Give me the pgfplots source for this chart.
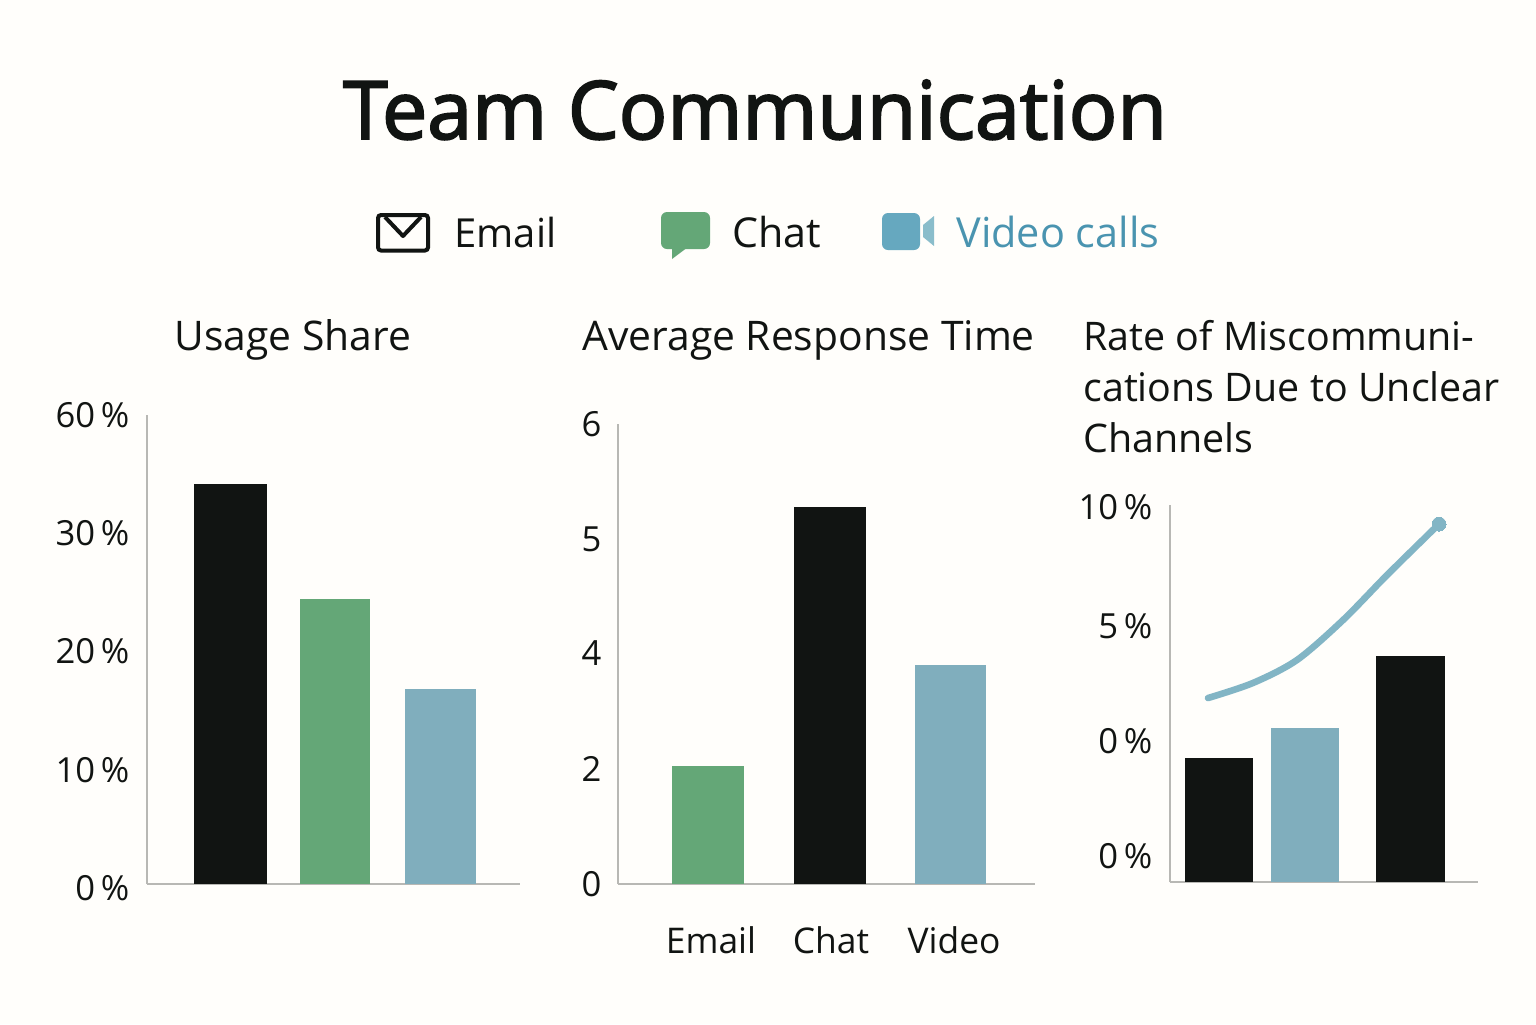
\documentclass[border=0pt]{standalone}
\usepackage{pgfplots}
\pgfplotsset{compat=1.18}
\usepackage{fontspec}
\setmainfont{Open Sans}
\newfontfamily\titlefont[FakeBold=2.4]{Open Sans}
\definecolor{bg}{HTML}{FFFEFB}
\definecolor{ink}{HTML}{111412}
\definecolor{grn}{HTML}{64A777}
\definecolor{blu}{HTML}{80AEBD}
\definecolor{blu2}{HTML}{66A8BF}
\definecolor{blu3}{HTML}{8ABDCB}
\definecolor{lin}{HTML}{82B5C5}
\definecolor{vid}{HTML}{4A94B0}
\definecolor{axc}{HTML}{B8B8B4}
\pgfplotsset{
  panel/.style={
    scale only axis, anchor=south west, clip=false,
    axis y line=left, axis x line=bottom,
    axis line style={draw=axc, line width=1pt, -},
    x axis line style={line width=1.3pt},
    tick style={draw=none},
    ymin=0, enlargelimits=false,
    xtick=\empty,
    yticklabel style={font=\fontsize{17.3}{20}\selectfont, text=ink, inner sep=0pt, xshift=-6.5pt},
    xticklabel style={font=\fontsize{17.7}{20}\selectfont, text=ink},
    ybar, 
  },
  onebar/.style={ybar, bar shift=0pt, draw=none, fill=#1},
}
\begin{document}
\begin{tikzpicture}
\begin{scope}[x=0.5pt,y=-0.5pt]
\path[use as bounding box, fill=bg] (0,0) rectangle (1536,1024);
\node[anchor=base, font=\fontsize{40.3}{44}\selectfont\titlefont, text=ink, inner sep=0pt] at (755,139) {Team Communication};
% legend
\draw[ink, line width=2pt, rounded corners=1.5pt] (378,215) rectangle (428,250.5);
\draw[ink, line width=2pt, line join=round] (385,217) -- (403,236) -- (421,217);
\node[anchor=base west, font=\fontsize{20}{22}\selectfont, text=ink, inner sep=0pt] at (454,247.5) {Email};
\fill[grn, rounded corners=3pt] (661,212) rectangle (710,249);
\fill[grn] (672,246) -- (672,259) -- (688,247) -- cycle;
\node[anchor=base west, font=\fontsize{20.6}{22}\selectfont, text=ink, inner sep=0pt] at (732,247.5) {Chat};
\fill[blu2, rounded corners=3pt] (882,213) rectangle (920,250);
\fill[blu3] (923,225) -- (934,216) -- (934,246) -- (923,237) -- cycle;
\node[anchor=base west, font=\fontsize{20.7}{22}\selectfont, text=vid, inner sep=0pt] at (956,247.5) {Video calls};
% panel titles
\node[anchor=base west, font=\fontsize{20.4}{22}\selectfont, text=ink, inner sep=0pt] at (174,350) {Usage Share};
\node[anchor=base west, font=\fontsize{20.4}{22}\selectfont, text=ink, inner sep=0pt] at (582,350) {Average Response Time};
\foreach \y/\t in {350/Rate of Miscommuni-, 401/cations Due to Unclear, 452/Channels}
  \node[anchor=base west, font=\fontsize{19.7}{22}\selectfont, text=ink, inner sep=0pt] at (1083,\y) {\t};
\end{scope}

% Usage Share
\begin{axis}[panel, at={(73.5pt,-442pt)}, width=186.5pt, height=234.5pt,
  xmin=147, xmax=520, ymax=40,
  ytick={0,9.75,19.83,29.9,40}, yticklabels={\raisebox{-2pt}[\height][\depth]{0\,\%},10\,\%,20\,\%,30\,\%,60\,\%}]
\addplot[onebar=ink, bar width=36.5pt] coordinates {(230.5,34.1)};
\addplot[onebar=grn, bar width=35pt] coordinates {(335,24.3)};
\addplot[onebar=blu, bar width=35.5pt] coordinates {(440.5,16.6)};
\end{axis}

% Average Response Time
\begin{axis}[panel, at={(309pt,-442pt)}, width=208.5pt, height=230pt,
  xmin=618, xmax=1035, ymax=8,
  ytick={0,2,4.02,6,8}, yticklabels={0,2,4,5,6},
  yticklabel style={xshift=0.5pt},
  xtick={711,831,954}, xticklabels={Email,Chat,Video},
  xticklabel style={yshift=-13.5pt}]
\addplot[onebar=grn, bar width=36pt] coordinates {(708,2.05)};
\addplot[onebar=ink, bar width=36pt] coordinates {(830,6.56)};
\addplot[onebar=blu, bar width=35.5pt] coordinates {(950.5,3.81)};
\end{axis}

% Rate of Miscommunications
\begin{axis}[panel, at={(585pt,-441pt)}, width=154pt, height=188.5pt,
  xmin=1170, xmax=1478, ymax=16.25,
  ytick={1.12,6.08,11.04,16.16}, yticklabels={0\,\%,0\,\%,5\,\%,10\,\%}]
\addplot[onebar=ink, bar width=34pt] coordinates {(1219,5.34)};
\addplot[onebar=blu, bar width=34pt] coordinates {(1305,6.64)};
\addplot[onebar=ink, bar width=34.5pt] coordinates {(1410.5,9.74)};
\addplot[sharp plot, draw=lin, line width=3.3pt, line cap=round, smooth, mark=none]
  coordinates {(1208,7.93)(1253,8.58)(1297,9.57)(1343,11.29)(1387,13.23)(1439,15.43)};
\addplot[sharp plot, draw=none, mark=*, mark size=3.5pt, mark options={fill=lin, draw=lin, line width=0pt}]
  coordinates {(1439,15.43)};
\end{axis}
\end{tikzpicture}
\end{document}
